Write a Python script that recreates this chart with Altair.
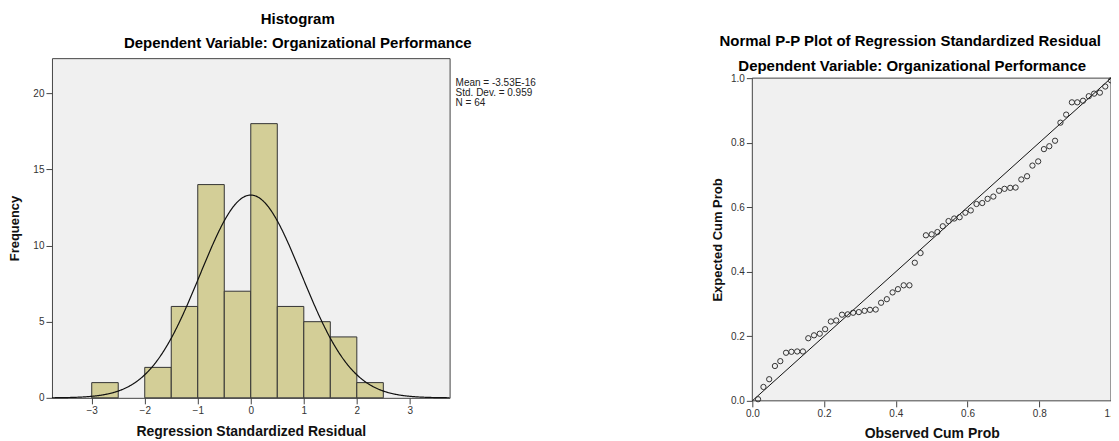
import altair as alt
import pandas as pd

FONT = "Liberation Sans"

# ---------------- Histogram data ----------------
bin_start = [-3.0, -2.5, -2.0, -1.5, -1.0, -0.5, 0.0, 0.5, 1.0, 1.5, 2.0]
bin_end = [-2.5, -2.0, -1.5, -1.0, -0.5, 0.0, 0.5, 1.0, 1.5, 2.0, 2.5]
frequency = [1, 0, 2, 6, 14, 7, 18, 6, 5, 4, 1]
hist_x_ticks = [-3, -2, -1, 0, 1, 2, 3]
hist_y_ticks = [0, 5, 10, 15, 20]
stat_lines = ["Mean = -3.53E-16", "Std. Dev. = 0.959", "N = 64"]
resid_mean = -3.53e-16
resid_sd = 0.959
resid_n = 64
bin_width = 0.5

# ---------------- P-P plot data ----------------
observed_cum = [0.016, 0.031, 0.047, 0.063, 0.078, 0.094, 0.109, 0.125,
                0.141, 0.156, 0.172, 0.188, 0.203, 0.219, 0.234, 0.250,
                0.266, 0.281, 0.297, 0.313, 0.328, 0.344, 0.359, 0.375,
                0.391, 0.406, 0.422, 0.438, 0.453, 0.469, 0.484, 0.500,
                0.516, 0.531, 0.547, 0.563, 0.578, 0.594, 0.609, 0.625,
                0.641, 0.656, 0.672, 0.688, 0.703, 0.719, 0.734, 0.750,
                0.766, 0.781, 0.797, 0.813, 0.828, 0.844, 0.859, 0.875,
                0.891, 0.906, 0.922, 0.938, 0.953, 0.969, 0.984, 1.000]
expected_cum = [0.005, 0.043, 0.067, 0.108, 0.123, 0.149, 0.152, 0.153,
                0.153, 0.194, 0.203, 0.208, 0.222, 0.246, 0.249, 0.267,
                0.268, 0.273, 0.275, 0.279, 0.282, 0.283, 0.304, 0.315,
                0.336, 0.346, 0.358, 0.358, 0.428, 0.458, 0.513, 0.516,
                0.523, 0.541, 0.557, 0.565, 0.569, 0.583, 0.590, 0.610,
                0.613, 0.626, 0.633, 0.651, 0.657, 0.660, 0.661, 0.686,
                0.696, 0.729, 0.742, 0.780, 0.789, 0.806, 0.862, 0.887,
                0.925, 0.925, 0.930, 0.944, 0.952, 0.955, 0.974, 0.993]
pp_ticks = [0.0, 0.2, 0.4, 0.6, 0.8, 1.0]
diag_x = [0.0, 1.0]
diag_y = [0.0, 1.0]
pp_title = "Normal P-P Plot of Regression Standardized Residual"
pp_subtitle = "Dependent Variable: Organizational Performance"

# ---------------- Histogram panel ----------------
hist_df = pd.DataFrame({"start": bin_start, "end": bin_end, "freq": frequency})

x_scale = alt.Scale(domain=[-3.75, 3.75], nice=False, zero=False)
y_scale = alt.Scale(domain=[0, 22.3], nice=False)
x_axis = alt.Axis(values=hist_x_ticks, format="d", title="Regression Standardized Residual",
                  titlePadding=9)
y_axis = alt.Axis(values=hist_y_ticks, format="d", title="Frequency", titlePadding=11,
                  titleFontSize=13)

bars = alt.Chart(hist_df).transform_filter("datum.freq > 0").mark_bar(
    fill="#d3ce97", stroke="#333333", strokeWidth=1
).encode(
    x=alt.X("start:Q", scale=x_scale, axis=x_axis),
    x2="end:Q",
    y=alt.Y("freq:Q", scale=y_scale, axis=y_axis),
    y2=alt.datum(0),
)

curve_expr = (
    f"{resid_n * bin_width} * exp(-0.5 * pow((datum.start - ({resid_mean})) / {resid_sd}, 2))"
    f" / ({resid_sd} * sqrt(2 * PI))"
)
curve = alt.Chart(alt.sequence(-3.75, 3.7501, 0.01, as_="start")).transform_calculate(
    freq=curve_expr
).mark_line(color="#111111", strokeWidth=1.2).encode(
    x=alt.X("start:Q", scale=x_scale, axis=x_axis),
    y=alt.Y("freq:Q", scale=y_scale, axis=y_axis),
)

stats = alt.Chart(pd.DataFrame({"k": [0]})).mark_text(
    align="left", baseline="top", font=FONT, fontSize=10, lineHeight=10, color="#222222"
).encode(
    x=alt.value(404), y=alt.value(20), text=alt.value(stat_lines)
)

hist_panel = alt.layer(bars, curve, stats).properties(
    width=398, height=340,
    title=alt.TitleParams(
        text="Histogram",
        subtitle="Dependent Variable: Organizational Performance",
        font=FONT, subtitleFont=FONT, fontSize=15, subtitleFontSize=15,
        fontWeight="bold", subtitleFontWeight="bold",
        color="#000000", subtitleColor="#000000",
        subtitlePadding=9, offset=7, dx=47, anchor="middle",
    ),
)

# ---------------- P-P panel ----------------
# The panel's group starts level with the histogram's plot top; the framed
# probability area (0..1) sits lower, so the y domain reaches a bit above 1.
pp_df = pd.DataFrame({"obs": observed_cum, "exp": expected_cum})
diag_df = pd.DataFrame({"obs": diag_x, "exp": diag_y})
frame_df = pd.DataFrame({"obs": [min(pp_ticks)], "obs_end": [max(pp_ticks)],
                         "exp": [min(pp_ticks)], "exp_end": [max(pp_ticks)]})

PP_H = 343
PP_TOP_GAP = 20
px_scale = alt.Scale(domain=[0, 1], nice=False)
py_scale = alt.Scale(domain=[0, PP_H / (PP_H - PP_TOP_GAP)], nice=False)
px_axis = alt.Axis(values=pp_ticks, format=".1f", title="Observed Cum Prob", titlePadding=8)
py_axis = alt.Axis(values=pp_ticks, format=".1f", title="Expected Cum Prob", titlePadding=6,
                   titleFontSize=13, titleY=PP_TOP_GAP + (PP_H - PP_TOP_GAP) / 2)

frame = alt.Chart(frame_df).mark_rect(
    fill="#f0f0f0", stroke="#444444", strokeWidth=1
).encode(
    x=alt.X("obs:Q", scale=px_scale, axis=px_axis),
    x2="obs_end:Q",
    y=alt.Y("exp:Q", scale=py_scale, axis=py_axis),
    y2="exp_end:Q",
)
diag = alt.Chart(diag_df).mark_line(color="#111111", strokeWidth=1).encode(
    x=alt.X("obs:Q", scale=px_scale, axis=px_axis),
    y=alt.Y("exp:Q", scale=py_scale, axis=py_axis),
)
points = alt.Chart(pp_df).mark_point(
    shape="circle", filled=False, color="#333333", size=28, strokeWidth=1, opacity=1
).encode(
    x=alt.X("obs:Q", scale=px_scale, axis=px_axis),
    y=alt.Y("exp:Q", scale=py_scale, axis=py_axis),
)
title_base = alt.Chart(pd.DataFrame({"k": [0]}))
pp_title_mark = title_base.mark_text(
    align="center", baseline="middle", font=FONT, fontSize=15, fontWeight="bold", color="#000000"
).encode(x=alt.value(158), y=alt.value(-17), text=alt.value(pp_title))
pp_subtitle_mark = title_base.mark_text(
    align="center", baseline="middle", font=FONT, fontSize=15, fontWeight="bold", color="#000000"
).encode(x=alt.value(160), y=alt.value(8), text=alt.value(pp_subtitle))

pp_panel = alt.layer(frame, diag, points, pp_title_mark, pp_subtitle_mark).properties(
    width=359, height=PP_H,
    view=alt.ViewBackground(fill="transparent", stroke="transparent"),
)

chart = alt.hconcat(hist_panel, pp_panel, spacing=174).properties(
    padding={"left": 0, "top": 3, "right": -8, "bottom": 0}
).configure_view(
    fill="#f0f0f0", stroke="#444444", strokeWidth=1
).configure_axis(
    grid=False, domain=False, tickColor="#444444", tickSize=6, labelPadding=2,
    labelFont=FONT, labelFontSize=10, labelColor="#333333",
    labelFlush=False, labelOverlap=False,
    titleFont=FONT, titleFontSize=14, titleFontWeight="bold", titleColor="#111111",
)

chart.save("out.html", embed_options={"renderer": "svg", "actions": False})
